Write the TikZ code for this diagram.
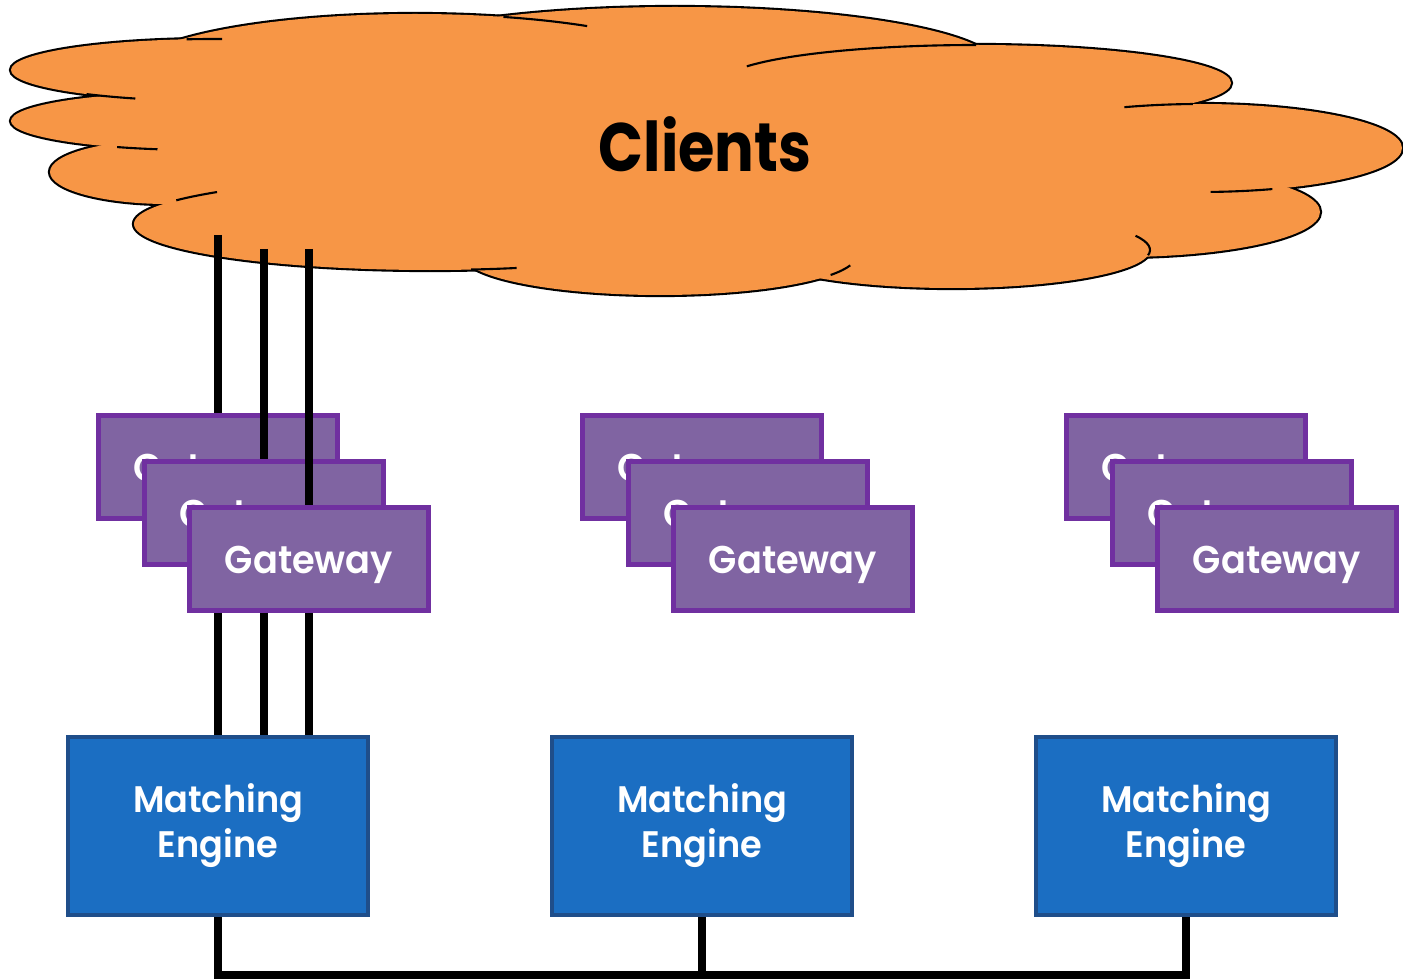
\documentclass[tikz,border=0pt]{standalone}
\usepackage{fontspec}
\setmainfont{Poppins}[BoldFont={* SemiBold}]
\newfontfamily\labelfont{Poppins SemiBold}[FakeStretch=0.95]
\newfontfamily\titlefont{Poppins}[FakeStretch=0.86]
\definecolor{cloudfill}{HTML}{F79646}
\definecolor{gwfill}{HTML}{8064A2}
\definecolor{gwline}{HTML}{7030A0}
\definecolor{mefill}{HTML}{1B6EC2}
\definecolor{meline}{HTML}{1F4E8A}
\begin{document}
\begin{tikzpicture}[x=0.01cm,y=-0.01cm,
  cloudedge/.style={draw=black,line width=0.6pt},
  gwbox/.style={draw=gwline,fill=gwfill,line width=1.4pt,
    minimum width=2.39cm,minimum height=1.03cm,inner sep=0pt,
    text=white,font=\labelfont\fontsize{11}{13}\selectfont,
    text height=1em,text depth=0.18em},
  mebox/.style={draw=meline,fill=mefill,line width=1.2pt,
    minimum width=3.00cm,minimum height=1.78cm,inner sep=0pt,
    text=white,align=center,font=\labelfont\fontsize{10.5}{12.8}\selectfont},
  wire/.style={draw=black,line width=2.2pt,line join=miter}]
\useasboundingbox (0,0) rectangle (1403,979);

% cloud: outlined lobes, then the same lobes filled again to hide inner edges
\def\lobes{415/74/286/60, 675/67/323/60, 976/83/255/38, 1200/148/202/44,
  1120/212/200/45, 952/250/198/38, 660/255/197/40, 430/224/296/46,
  167/172/117/32, 200/121/189/29, 215/70/204/31}
\foreach \cx/\cy/\a/\b in \lobes
  \draw[draw=black,line width=1.2pt,fill=cloudfill] (\cx,\cy) ellipse [x radius=\a, y radius=\b];
\foreach \cx/\cy/\a/\b in \lobes
  \fill[cloudfill] (\cx,\cy) ellipse [x radius=\a, y radius=\b];
\fill[cloudfill] (700,165) ellipse [x radius=560, y radius=95];

% short inner edge pieces where lobes overlap
\foreach \cx/\cy/\a/\b/\s/\e in {
  215/70/204/31/262/272, 215/70/204/31/129/113,
  200/121/189/29/116/103,
  430/224/296/46/211/224, 430/224/296/46/82/73,
  660/255/197/40/30/15,
  952/250/198/38/8/-22,
  1200/148/202/44/69/87, 1200/148/202/44/268/248,
  976/83/255/38/206/270,
  415/74/286/60/288/307}
  \draw[cloudedge] (\cx,\cy) ++(\s:\a\space and \b) arc [start angle=\s, end angle=\e, x radius=\a, y radius=\b];

\node[font=\titlefont\fontsize{19.5}{24}\selectfont\bfseries,anchor=base] (clients) at (705,172) {Clients};

% gateway stacks
\node[gwbox] (g1a) at (218,467) {Gateway};
\node[gwbox] (g1b) at (264,513) {Gateway};
\node[gwbox] (g1c) at (309,559) {Gateway};
\node[gwbox] (g2a) at (702,467) {Gateway};
\node[gwbox] (g2b) at (748,513) {Gateway};
\node[gwbox] (g2c) at (793,559) {Gateway};
\node[gwbox] (g3a) at (1186,467) {Gateway};
\node[gwbox] (g3b) at (1232,513) {Gateway};
\node[gwbox] (g3c) at (1277,559) {Gateway};

% matching engines
\node[mebox] (e1) at (218,826) {Matching\\Engine};
\node[mebox] (e2) at (702,826) {Matching\\Engine};
\node[mebox] (e3) at (1186,826) {Matching\\Engine};

% client connections into the first stack
\coordinate (c1) at (218,235);
\coordinate (c2) at (264,249);
\coordinate (c3) at (309,249);
\draw[wire] (c1) -- (g1a.north);
\draw[wire] (c2) -- (g1b.north);
\draw[wire] (c3) -- (g1c.north);

% first stack to its engine
\draw[wire] (g1c.south -| g1a.center) -- (e1.north);
\draw[wire] (g1c.south -| g1b.center) -- (e1.north -| g1b.center);
\draw[wire] (g1c.south) -- (e1.north -| g1c.center);

% bus linking the engines
\coordinate (bus) at (0,975);
\draw[wire] (e1.south) -- (e1.south |- bus) -- (e3.south |- bus) -- (e3.south);
\draw[wire] (e2.south) -- (e2.south |- bus);
\end{tikzpicture}
\end{document}
